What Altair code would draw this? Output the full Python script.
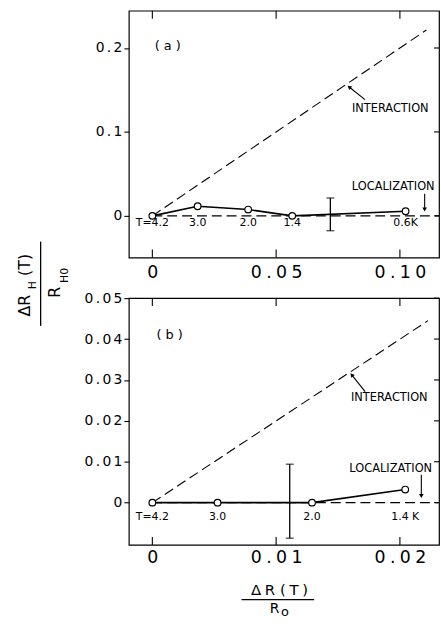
import altair as alt
import pandas as pd

FONT = "DejaVu Sans"
SP_X = "\u2005"  # letter gap for the wide-set x tick labels
SP_Y = "\u2006"  # letter gap for the y tick labels
SP_T = "\u2005"

# ---- panel (a) ----
a_dr = [0.0, 0.0183, 0.0387, 0.0565, 0.1023]
a_dh = [0.0, 0.0114, 0.0075, 0.0, 0.0055]
a_temp = ["T=4.2", "3.0", "2.0", "1.4", "0.6K"]
a_err_dr = [0.0719]
a_err_lo = [-0.0177]
a_err_hi = [0.0213]
a_inter_dr = [0.0, 0.1107]
a_inter_dh = [0.0, 0.2214]
a_loc_dr = [0.0, 0.1158]
a_xticks = [0.0, 0.05, 0.10]
a_yticks = [0.0, 0.1, 0.2]
a_xdomain = [-0.0095, 0.1158]
a_ydomain = [-0.0496, 0.2444]

# ---- panel (b) ----
b_dr = [0.0, 0.00527, 0.0129, 0.02043]
b_dh = [0.0, 0.0, 0.0, 0.0032]
b_temp = ["T=4.2", "3.0", "2.0", "1.4 K"]
b_err_dr = [0.0111]
b_err_lo = [-0.0087]
b_err_hi = [0.0094]
b_inter_dr = [0.0, 0.02227]
b_inter_dh = [0.0, 0.0445]
b_loc_dr = [0.0, 0.02316]
b_xticks = [0.0, 0.01, 0.02]
b_yticks = [0.0, 0.01, 0.02, 0.03, 0.04, 0.05]
b_xdomain = [-0.0019, 0.02316]
b_ydomain = [-0.01033, 0.05001]

W, H = 313, 249
LEFT, TOP = 129, 7


def spaced(sp):
    return f"datum.value == 0 ? '0' : join(split(datum.label, ''), '{sp}')"


def panel(dr, dh, temp, err_dr, err_lo, err_hi, inter_dr, inter_dh, loc_dr,
          xticks, yticks, xdom, ydom, xfmt, yfmt, xpad, temp_dy,
          tag, tag_at, inter_at, inter_arrow, loc_at, loc_arrow, extra=()):
    xs = alt.Scale(domain=xdom, nice=False, zero=False)
    ys = alt.Scale(domain=ydom, nice=False, zero=False)

    def X(field="x"):
        return alt.X(f"{field}:Q", scale=xs, title=None)

    def Y(field="y"):
        return alt.Y(f"{field}:Q", scale=ys, title=None)

    def XD(v):
        return alt.XDatum(v, type="quantitative", scale=xs, title=None)

    def YD(v):
        return alt.YDatum(v, type="quantitative", scale=ys, title=None)

    pts = pd.DataFrame({"x": dr, "y": dh, "t": temp})

    base = alt.Chart(pts).mark_line(color="black", strokeWidth=1.6).encode(
        x=alt.X("x:Q", scale=xs, title=None,
                axis=alt.Axis(values=xticks, format=xfmt, labelExpr=spaced(SP_X),
                              ticks=False, domain=False, grid=False,
                              labelFontSize=17.5, labelPadding=xpad, labelColor="black",
                              labelFont=FONT, labelFlush=False)),
        y=alt.Y("y:Q", scale=ys, title=None,
                axis=alt.Axis(values=yticks, format=yfmt, labelExpr=spaced(SP_Y),
                              ticks=True, tickSize=5, tickColor="black", tickWidth=1.1,
                              domain=False, grid=False, labelFontSize=14,
                              labelPadding=2, labelColor="black", labelFont=FONT)),
    )

    inter = alt.Chart(pd.DataFrame({"x": inter_dr, "y": inter_dh})).mark_line(
        color="black", strokeWidth=1.1, strokeDash=[10, 5], clip=True
    ).encode(x=X(), y=Y())

    loc = alt.Chart(pd.DataFrame({"x": loc_dr, "y": [0.0, 0.0]})).mark_line(
        color="black", strokeWidth=1.1, strokeDash=[10, 5], clip=True
    ).encode(x=X(), y=Y())

    circles = alt.Chart(pts).mark_point(
        shape="circle", filled=True, fill="white", stroke="black",
        strokeWidth=1.2, size=45, opacity=1
    ).encode(x=X(), y=Y())

    # temperature of each point, written along the zero line
    temps = alt.Chart(pts).mark_text(
        font=FONT, fontSize=11, color="black", baseline="middle", align="center", dy=temp_dy
    ).encode(x=X(), y=YD(0.0), text="t:N")

    err = pd.DataFrame({"x": err_dr, "lo": err_lo, "hi": err_hi})
    err_rule = alt.Chart(err).mark_rule(color="black", strokeWidth=1.3).encode(
        x=X(), y=Y("lo"), y2="hi:Q")
    err_lo_cap = alt.Chart(err).mark_tick(
        color="black", orient="horizontal", size=8, thickness=1.3).encode(x=X(), y=Y("lo"))
    err_hi_cap = alt.Chart(err).mark_tick(
        color="black", orient="horizontal", size=8, thickness=1.3).encode(x=X(), y=Y("hi"))

    # inward frame ticks: top and bottom at the x ticks, right side at the y ticks
    xt = pd.DataFrame({"x": xticks})
    yt = pd.DataFrame({"y": yticks})
    top_ticks = alt.Chart(xt).mark_rule(color="black", strokeWidth=1.1).encode(
        x=X(), y=alt.value(0), y2=alt.value(8))
    bot_ticks = alt.Chart(xt).mark_rule(color="black", strokeWidth=1.1).encode(
        x=X(), y=alt.value(H - 8), y2=alt.value(H))
    right_ticks = alt.Chart(yt).mark_rule(color="black", strokeWidth=1.1).encode(
        y=Y(), x=alt.value(W - 5), x2=alt.value(W))

    def label(text, at, size=11.5):
        return alt.Chart(pd.DataFrame({"t": [text]})).mark_text(
            font=FONT, fontSize=size, color="black", align="center", baseline="middle"
        ).encode(x=XD(at[0]), y=YD(at[1]), text="t:N")

    def arrow(tail, head, angle):
        line = alt.Chart(pd.DataFrame({"x": [tail[0]], "y": [tail[1]],
                                       "x2": [head[0]], "y2": [head[1]]})).mark_rule(
            color="black", strokeWidth=1.1).encode(x=X(), y=Y(), x2="x2:Q", y2="y2:Q")
        tip = alt.Chart(pd.DataFrame({"x": [head[0]], "y": [head[1]]})).mark_point(
            shape="triangle-up", filled=True, color="black", size=22, opacity=1, angle=angle
        ).encode(x=X(), y=Y())
        return [line, tip]

    layers = [base, inter, loc, err_rule, err_lo_cap, err_hi_cap, circles, temps,
              top_ticks, bot_ticks, right_ticks,
              label(tag, tag_at, 13),
              label("INTERACTION", inter_at), label("LOCALIZATION", loc_at)]
    layers += arrow(*inter_arrow)
    layers += arrow(*loc_arrow)
    layers += list(extra)
    return alt.layer(*layers).properties(width=W, height=H)


def px_text(text, x, y, size, angle=0):
    return alt.Chart(pd.DataFrame({"t": [text]})).mark_text(
        font=FONT, fontSize=size, color="black", align="center", baseline="middle", angle=angle
    ).encode(x=alt.value(x), y=alt.value(y), text="t:N")


def px_rule(x, y, x2, y2, opacity=1):
    return alt.Chart(pd.DataFrame({"t": [0]})).mark_rule(
        color="black", strokeWidth=1.3, opacity=opacity).encode(
        x=alt.value(x), y=alt.value(y), x2=alt.value(x2), y2=alt.value(y2))


# y-axis title as a stacked fraction: ΔR_H(T) over R_H0, set sideways
y_title = [
    px_text("ΔR", -105, 297.5, 16, 270),
    px_text("H", -96.5, 277, 11, 270),
    px_text("(T)", -105, 256.5, 16, 270),
    px_rule(-89, 233, -89, 318),
    px_text("R", -74, 284, 16, 270),
    px_text("H0", -64.5, 267, 11, 270),
    # invisible anchor fixing the page margin at the top-left corner
    px_rule(-LEFT, -TOP, -LEFT + 1, -TOP, opacity=0),
]

# x-axis title: ΔR(T) over R_o
x_title = [
    px_text(SP_T.join("ΔR") + " " + SP_T.join("(T)"), 152, 295, 15),
    px_rule(113.7, 304.3, 187, 304.3),
    px_text("R", 147, 314, 14),
    px_text("o", 157.5, 316.5, 13),
]

chart_a = panel(
    a_dr, a_dh, a_temp, a_err_dr, a_err_lo, a_err_hi, a_inter_dr, a_inter_dh, a_loc_dr,
    a_xticks, a_yticks, a_xdomain, a_ydomain, ".2f", ".1f", 6, 7,
    "( a )", (0.0062, 0.2022),
    (0.0961, 0.1269), ((0.0859, 0.1385), (0.0795, 0.1535), 308),
    (0.0973, 0.0342), ((0.1100, 0.0263), (0.1100, 0.0075), 180),
    extra=y_title,
)

chart_b = panel(
    b_dr, b_dh, b_temp, b_err_dr, b_err_lo, b_err_hi, b_inter_dr, b_inter_dh, b_loc_dr,
    b_xticks, b_yticks, b_xdomain, b_ydomain, ".2f", ".2f", 3.5, 15,
    "( b )", (0.0014, 0.0409),
    (0.01914, 0.02555), ((0.01719, 0.02716), (0.01611, 0.03125), 321),
    (0.01926, 0.00825), ((0.02173, 0.0068), (0.02173, 0.0016), 180),
    extra=x_title,
)

chart = alt.vconcat(chart_a, chart_b, spacing=41, bounds="flush").resolve_scale(
    x="independent", y="independent"
).properties(
    padding=0,
    background="white",
).configure_view(
    stroke="black", strokeWidth=1.2
)

chart.save("out.html", embed_options={"renderer": "svg", "actions": False})
